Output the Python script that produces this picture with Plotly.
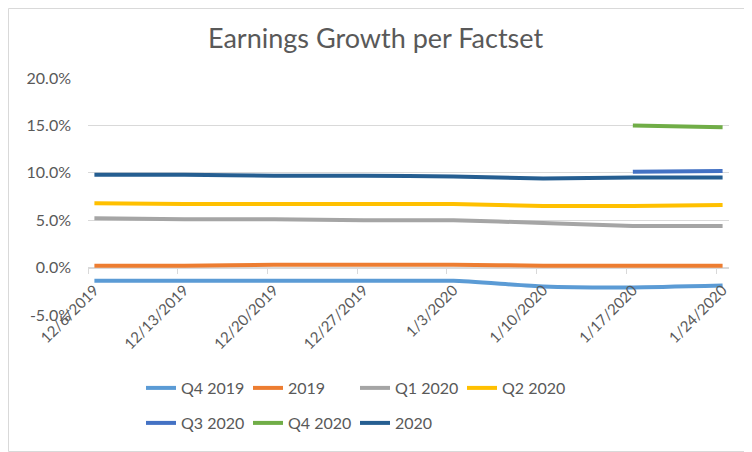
import plotly.graph_objects as go

dates = ["2019-12-06", "2019-12-13", "2019-12-20", "2019-12-27",
         "2020-01-03", "2020-01-10", "2020-01-17", "2020-01-24"]
tick_labels = ["12/6/2019", "12/13/2019", "12/20/2019", "12/27/2019",
               "1/3/2020", "1/10/2020", "1/17/2020", "1/24/2020"]

q4_2019 = [-1.4, -1.4, -1.4, -1.4, -1.4, -2.0, -2.1, -1.9]
y2019 = [0.2, 0.2, 0.3, 0.3, 0.3, 0.2, 0.2, 0.2]
q1_2020 = [5.2, 5.1, 5.1, 5.0, 5.0, 4.7, 4.4, 4.4]
q2_2020 = [6.8, 6.7, 6.7, 6.7, 6.7, 6.5, 6.5, 6.6]
q3_2020 = [None, None, None, None, None, None, 10.1, 10.2]
q4_2020 = [None, None, None, None, None, None, 15.0, 14.8]
y2020 = [9.8, 9.8, 9.7, 9.7, 9.6, 9.4, 9.5, 9.5]

series = [
    ("Q4 2019", q4_2019, "#5B9BD5", "legend"),
    ("2019", y2019, "#ED7D31", "legend"),
    ("Q1 2020", q1_2020, "#A5A5A5", "legend"),
    ("Q2 2020", q2_2020, "#FFC000", "legend"),
    ("Q3 2020", q3_2020, "#4472C4", "legend2"),
    ("Q4 2020", q4_2020, "#70AD47", "legend2"),
    ("2020", y2020, "#255E91", "legend2"),
]

# points centred in their day on an Excel-style date axis
xpts = [d + " 12:00" for d in dates]

fig = go.Figure()
for name, vals, color, lg in series:
    fig.add_trace(go.Scatter(
        x=xpts, y=[v / 100 if v is not None else None for v in vals],
        name=name, mode="lines",
        line=dict(color=color, width=4, shape="spline", smoothing=0.5),
        legend=lg, connectgaps=False,
    ))

font_family = "Lato, Open Sans, sans-serif"
grey = "#595959"

# figure is 744x444 (page offset 8px); plot area 80..721 x 70..307
W, H = 744, 444
L, R, T, B = 80, 23, 70, 137
pw, ph = W - L - R, H - T - B

def px_to_paper_x(px):
    return (px - L) / pw

def px_to_paper_y(py):
    return (H - B - py) / ph

shapes = [dict(type="rect", xref="paper", yref="paper",
               x0=px_to_paper_x(0.5), x1=px_to_paper_x(W - 0.5),
               y0=px_to_paper_y(H - 0.5), y1=px_to_paper_y(0.5),
               line=dict(color="#D9D9D9", width=1), layer="below")]

axis_pos = (0 - (-0.05)) / 0.25

fig.update_layout(
    width=W, height=H,
    margin=dict(l=L, r=R, t=T, b=B),
    paper_bgcolor="white", plot_bgcolor="white",
    title=dict(text="Earnings Growth per Factset", x=0.494, xanchor="center",
               y=1 - 31 / H, yanchor="middle",
               font=dict(family=font_family, size=27, color=grey)),
    font=dict(family=font_family, color=grey, size=15),
    xaxis=dict(type="date", range=["2019-12-06", "2020-01-25"],
               anchor="free", position=axis_pos,
               tickvals=xpts, ticktext=tick_labels, tickangle=-45,
               showgrid=False, showline=True, linecolor="#D9D9D9", linewidth=1,
               ticks="", ticklabelstandoff=7, tickfont=dict(size=15, color=grey),
               minor=dict(tickvals=dates, ticks="outside", ticklen=5,
                          tickcolor="#D9D9D9", showgrid=False)),
    yaxis=dict(range=[-0.05, 0.2], tickvals=[-0.05, 0, 0.05, 0.1, 0.15, 0.2],
               ticktext=["-5.0%", "0.0%", "5.0%", "10.0%", "15.0%", "20.0%"],
               showgrid=True, gridcolor="#D9D9D9", gridwidth=1,
               zeroline=False, showline=False, ticks="", ticklabelstandoff=16,
               tickfont=dict(size=16, color=grey)),
    legend=dict(orientation="h", x=px_to_paper_x(133), xanchor="left",
                y=px_to_paper_y(380), yanchor="middle", entrywidth=62,
                font=dict(size=16, color=grey), bgcolor="rgba(0,0,0,0)"),
    legend2=dict(orientation="h", x=px_to_paper_x(133), xanchor="left",
                 y=px_to_paper_y(415), yanchor="middle", entrywidth=62,
                 font=dict(size=16, color=grey), bgcolor="rgba(0,0,0,0)"),
    shapes=shapes,
)

fig.write_html("out.html")
